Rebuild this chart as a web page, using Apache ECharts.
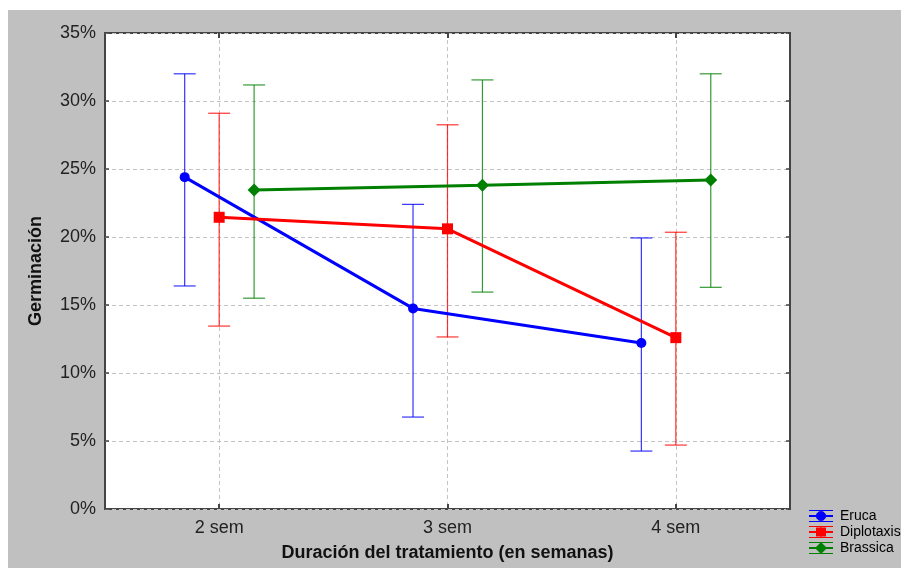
<!DOCTYPE html>
<html><head><meta charset="utf-8">
<script src="https://cdn.jsdelivr.net/npm/echarts@6/dist/echarts.min.js"></script>
<style>
html,body{margin:0;padding:0;background:#fff;width:901px;height:568px;overflow:hidden}
#c{position:absolute;left:8px;top:10px;width:893px;height:558px;background:#c0c0c0}
</style></head><body>
<div id="c"></div>
<script>
const categories = ['2 sem', '3 sem', '4 sem'];
const seriesNames = ['Eruca', 'Diplotaxis', 'Brassica'];
const erucaMean = [24.4, 14.75, 12.2];
const erucaLow = [16.4, 6.76, 4.26];
const erucaHigh = [32.0, 22.4, 19.93];
const diploMean = [21.45, 20.6, 12.6];
const diploLow = [13.45, 12.65, 4.7];
const diploHigh = [29.1, 28.25, 20.35];
const brassMean = [23.45, 23.8, 24.2];
const brassLow = [15.5, 15.95, 16.3];
const brassHigh = [31.18, 31.55, 32.0];
const yTicks = [0, 5, 10, 15, 20, 25, 30, 35];

const colors = ['#0000ff', '#ff0000', '#008000'];
const offsets = [-0.151, 0, 0.153];
const symbols = ['circle', 'rect', 'diamond'];
const symSizes = [10, 11, 13];
const groups = [
  [erucaMean, erucaLow, erucaHigh],
  [diploMean, diploLow, diploHigh],
  [brassMean, brassLow, brassHigh]
];

const chart = echarts.init(document.getElementById('c'));
const series = [];
groups.forEach((g, s) => {
  series.push({
    name: seriesNames[s] + '_err',
    type: 'custom',
    xAxisIndex: 1,
    yAxisIndex: 0,
    z: 2,
    data: categories.map((c, i) => [i + 1 + offsets[s], g[1][i], g[2][i]]),
    renderItem: function (params, api) {
      const x = api.value(0);
      const lo = api.coord([x, api.value(1)]);
      const hi = api.coord([x, api.value(2)]);
      const hw = 11;
      const st = { stroke: colors[s], lineWidth: 1.2, opacity: 0.8 };
      return {
        type: 'group',
        children: [
          { type: 'line', shape: { x1: lo[0], y1: lo[1], x2: hi[0], y2: hi[1] }, style: st },
          { type: 'line', shape: { x1: lo[0] - hw, y1: lo[1], x2: lo[0] + hw, y2: lo[1] }, style: st },
          { type: 'line', shape: { x1: hi[0] - hw, y1: hi[1], x2: hi[0] + hw, y2: hi[1] }, style: st }
        ]
      };
    },
    silent: true
  });
  series.push({
    name: seriesNames[s],
    type: 'line',
    xAxisIndex: 1,
    yAxisIndex: 0,
    z: 3,
    data: categories.map((c, i) => [i + 1 + offsets[s], g[0][i]]),
    symbol: symbols[s],
    symbolSize: symSizes[s],
    showSymbol: true,
    itemStyle: { color: colors[s] },
    lineStyle: { color: colors[s], width: 3 },
    animation: false
  });
});

function legendIcon(kind) {
  let base = 'M0,0H24V1H0Z M0,11H24V12H0Z M0,5H24V7H0Z M11.5,0H12.5V12H11.5Z ';
  if (kind === 'circle') base += 'M10,1.2L14,1.2L16.8,4L16.8,8L14,10.8L10,10.8L7.2,8L7.2,4Z';
  else if (kind === 'rect') base += 'M7,1.5H17V10.5H7Z';
  else base += 'M12,0L18,6L12,12L6,6Z';
  return 'path://' + base;
}

const gridLine = { show: true, lineStyle: { color: '#c4c4c4', type: [4, 3], width: 1 } };
const option = {
  animation: false,
  backgroundColor: 'transparent',
  grid: { left: 97, top: 23, right: 111, bottom: 59, show: true, backgroundColor: '#fff', borderColor: '#444', borderWidth: 2 },
  legend: {
    orient: 'vertical', left: 801, top: 499, padding: 0, height: 58,
    itemWidth: 24, itemHeight: 13, itemGap: 2,
    textStyle: { fontFamily: 'Liberation Sans', fontSize: 14, color: '#000', padding: [0, 0, 0, 2] },
    data: seriesNames.map((n, i) => ({ name: n, icon: legendIcon(symbols[i]), itemStyle: { color: colors[i] } }))
  },
  xAxis: [
    {
      type: 'category', data: categories, position: 'bottom', boundaryGap: true,
      axisLine: { show: false },
      axisTick: { show: true, inside: true, alignWithLabel: true, length: 5, lineStyle: { color: '#444', width: 2 } },
      axisLabel: { fontFamily: 'Liberation Sans', fontSize: 18, color: '#222', margin: 10 },
      splitLine: Object.assign({ alignWithLabel: true }, gridLine),
      name: 'Duración del tratamiento (en semanas)', nameLocation: 'middle', nameGap: 35,
      nameTextStyle: { fontFamily: 'Liberation Sans', fontWeight: 'bold', fontSize: 18, color: '#111' }
    },
    {
      type: 'value', min: 0.5, max: 3.5, show: false
    },
    {
      type: 'category', data: categories, position: 'top', boundaryGap: true,
      axisLine: { show: false },
      axisTick: { show: true, inside: true, alignWithLabel: true, length: 5, lineStyle: { color: '#444', width: 2 } },
      axisLabel: { show: false }, splitLine: { show: false }
    }
  ],
  yAxis: [
    {
      type: 'value', min: 0, max: 35, interval: 5, position: 'left',
      axisLine: { show: false },
      axisTick: { show: true, inside: true, length: 4, lineStyle: { color: '#444', width: 1.5 } },
      axisLabel: { fontFamily: 'Liberation Sans', fontSize: 18, color: '#222', margin: 9,
        formatter: v => yTicks.indexOf(v) >= 0 ? v + '%' : '' },
      splitLine: gridLine,
      name: 'Germinación', nameLocation: 'middle', nameGap: 60, nameRotate: 90,
      nameTextStyle: { fontFamily: 'Liberation Sans', fontWeight: 'bold', fontSize: 18, color: '#111' }
    },
    {
      type: 'value', min: 0, max: 35, interval: 5, position: 'right',
      axisLine: { show: false },
      axisTick: { show: true, inside: true, length: 4, lineStyle: { color: '#444', width: 1.5 } },
      axisLabel: { show: false }, splitLine: { show: false }
    }
  ],
  series: series
};
chart.setOption(option);
</script>
</body></html>
